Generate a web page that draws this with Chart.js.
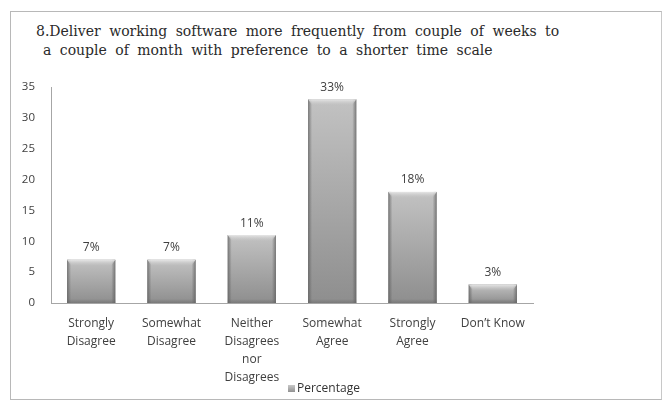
<!DOCTYPE html>
<html>
<head>
<meta charset="utf-8">
<script src="https://cdn.jsdelivr.net/npm/chart.js@4.4.1/dist/chart.umd.min.js"></script>
<style>
  html, body { margin: 0; padding: 0; background: #fff; }
  #wrap { position: relative; width: 663px; height: 401px; overflow: hidden; }
  #frame { position: absolute; left: 10px; top: 11px; width: 652px; height: 389px; border: 1px solid #b8b8b8; box-sizing: border-box; border-right-color: #c8c8c8; }
  #title { position: absolute; left: 36px; top: 22px; font-family: "DejaVu Serif", serif; font-size: 14px; line-height: 19px; color: #2a2a2a; word-spacing: 4px; white-space: nowrap; }
  #title .l2 { padding-left: 7px; }
  canvas { position: absolute; left: 0; top: 0; }
</style>
</head>
<body>
<div id="wrap">
  <div id="frame"></div>
  <div id="title">8.Deliver working software more frequently from couple of weeks to<br><span class="l2">a couple of month with preference to a shorter time scale</span></div>
  <canvas id="c" width="663" height="401"></canvas>
</div>
<script>
// Survey responses for statement 8
const categories = [
  ['Strongly', 'Disagree'],
  ['Somewhat', 'Disagree'],
  ['Neither', 'Disagrees', 'nor', 'Disagrees'],
  ['Somewhat', 'Agree'],
  ['Strongly', 'Agree'],
  'Don\u2019t Know'
];
const percentages = [7, 7, 11, 33, 18, 3];
const valueLabels = ['7%', '7%', '11%', '33%', '18%', '3%'];
const yTicks = [0, 5, 10, 15, 20, 25, 30, 35];
const seriesName = 'Percentage';

const labelFont = '"Open Sans", "DejaVu Sans", sans-serif';

// Shaded, bevelled grey bars plus value labels and a small legend
const bevelBars = {
  id: 'bevelBars',
  afterDatasetsDraw(chart) {
    const ctx = chart.ctx;
    const meta = chart.getDatasetMeta(0);
    ctx.save();
    meta.data.forEach((bar, i) => {
      const w = bar.width;
      const x0 = bar.x - w / 2, x1 = bar.x + w / 2;
      const top = bar.y, bottom = bar.base;
      const h = bottom - top;
      // body gradient
      const g = ctx.createLinearGradient(0, top, 0, bottom);
      g.addColorStop(0, '#c2c2c2');
      g.addColorStop(1, '#8e8e8e');
      ctx.fillStyle = g;
      ctx.fillRect(x0, top, w, h);
      // side edges
      const gl = ctx.createLinearGradient(x0, 0, x0 + 4, 0);
      gl.addColorStop(0, 'rgba(90,90,90,0.7)');
      gl.addColorStop(1, 'rgba(90,90,90,0)');
      ctx.fillStyle = gl;
      ctx.fillRect(x0, top, 4, h);
      const gr = ctx.createLinearGradient(x1, 0, x1 - 4, 0);
      gr.addColorStop(0, 'rgba(90,90,90,0.7)');
      gr.addColorStop(1, 'rgba(90,90,90,0)');
      ctx.fillStyle = gr;
      ctx.fillRect(x1 - 4, top, 4, h);
      // top bevel
      const bh = Math.min(6, h / 2);
      const gt = ctx.createLinearGradient(0, top, 0, top + bh);
      gt.addColorStop(0, '#e6e6e6');
      gt.addColorStop(1, 'rgba(200,200,200,0)');
      ctx.fillStyle = gt;
      ctx.beginPath();
      ctx.moveTo(x0, top);
      ctx.lineTo(x1, top);
      ctx.lineTo(x1 - 4, top + bh);
      ctx.lineTo(x0 + 4, top + bh);
      ctx.closePath();
      ctx.fill();
      // bottom shade
      const gb = ctx.createLinearGradient(0, bottom - 4, 0, bottom);
      gb.addColorStop(0, 'rgba(100,100,100,0)');
      gb.addColorStop(1, 'rgba(100,100,100,0.5)');
      ctx.fillStyle = gb;
      ctx.fillRect(x0, bottom - 4, w, 4);
      // value label
      ctx.fillStyle = '#404040';
      ctx.font = '12px ' + labelFont;
      ctx.textAlign = 'center';
      ctx.textBaseline = 'bottom';
      ctx.fillText(valueLabels[i], bar.x, top - 6);
    });
    // legend entry below the axis labels
    const area = chart.chartArea;
    const lx = (area.left + area.right) / 2;
    const ly = chart.height - 12;
    const gs = ctx.createLinearGradient(0, ly - 4, 0, ly + 4);
    gs.addColorStop(0, '#c8c8c8');
    gs.addColorStop(1, '#8a8a8a');
    ctx.fillStyle = gs;
    ctx.fillRect(lx - 4, ly - 4, 7, 7);
    ctx.fillStyle = '#333';
    ctx.font = '12px ' + labelFont;
    ctx.textAlign = 'left';
    ctx.textBaseline = 'middle';
    ctx.fillText(seriesName, lx + 5, ly);
    ctx.restore();
  }
};

new Chart(document.getElementById('c'), {
  type: 'bar',
  data: {
    labels: categories,
    datasets: [{
      label: seriesName,
      data: percentages,
      backgroundColor: '#9e9e9e',
      borderWidth: 0,
      barPercentage: 0.6,
      categoryPercentage: 1.0
    }]
  },
  options: {
    responsive: false,
    animation: false,
    devicePixelRatio: 1,
    layout: { padding: { top: 87, right: 130, left: 0, bottom: 0 } },
    plugins: {
      legend: { display: false },
      tooltip: { enabled: false },
      title: { display: false }
    },
    scales: {
      x: {
        grid: { display: false, drawTicks: false },
        border: { display: true, color: '#a6a6a6', width: 1 },
        ticks: {
          color: '#404040',
          font: { family: labelFont, size: 12, lineHeight: 1.5 },
          padding: 12,
          maxRotation: 0,
          autoSkip: false
        },
        afterFit(scale) { scale.height = 98; }
      },
      y: {
        min: 0,
        max: 35,
        grid: { display: false, drawTicks: false },
        border: { display: true, color: '#a6a6a6', width: 1 },
        afterBuildTicks(scale) { scale.ticks = yTicks.map(v => ({ value: v })); },
        ticks: {
          color: '#404040',
          font: { family: labelFont, size: 11.5 },
          padding: 16
        },
        afterFit(scale) { scale.width = 51; }
      }
    }
  },
  plugins: [bevelBars]
});
</script>
</body>
</html>
